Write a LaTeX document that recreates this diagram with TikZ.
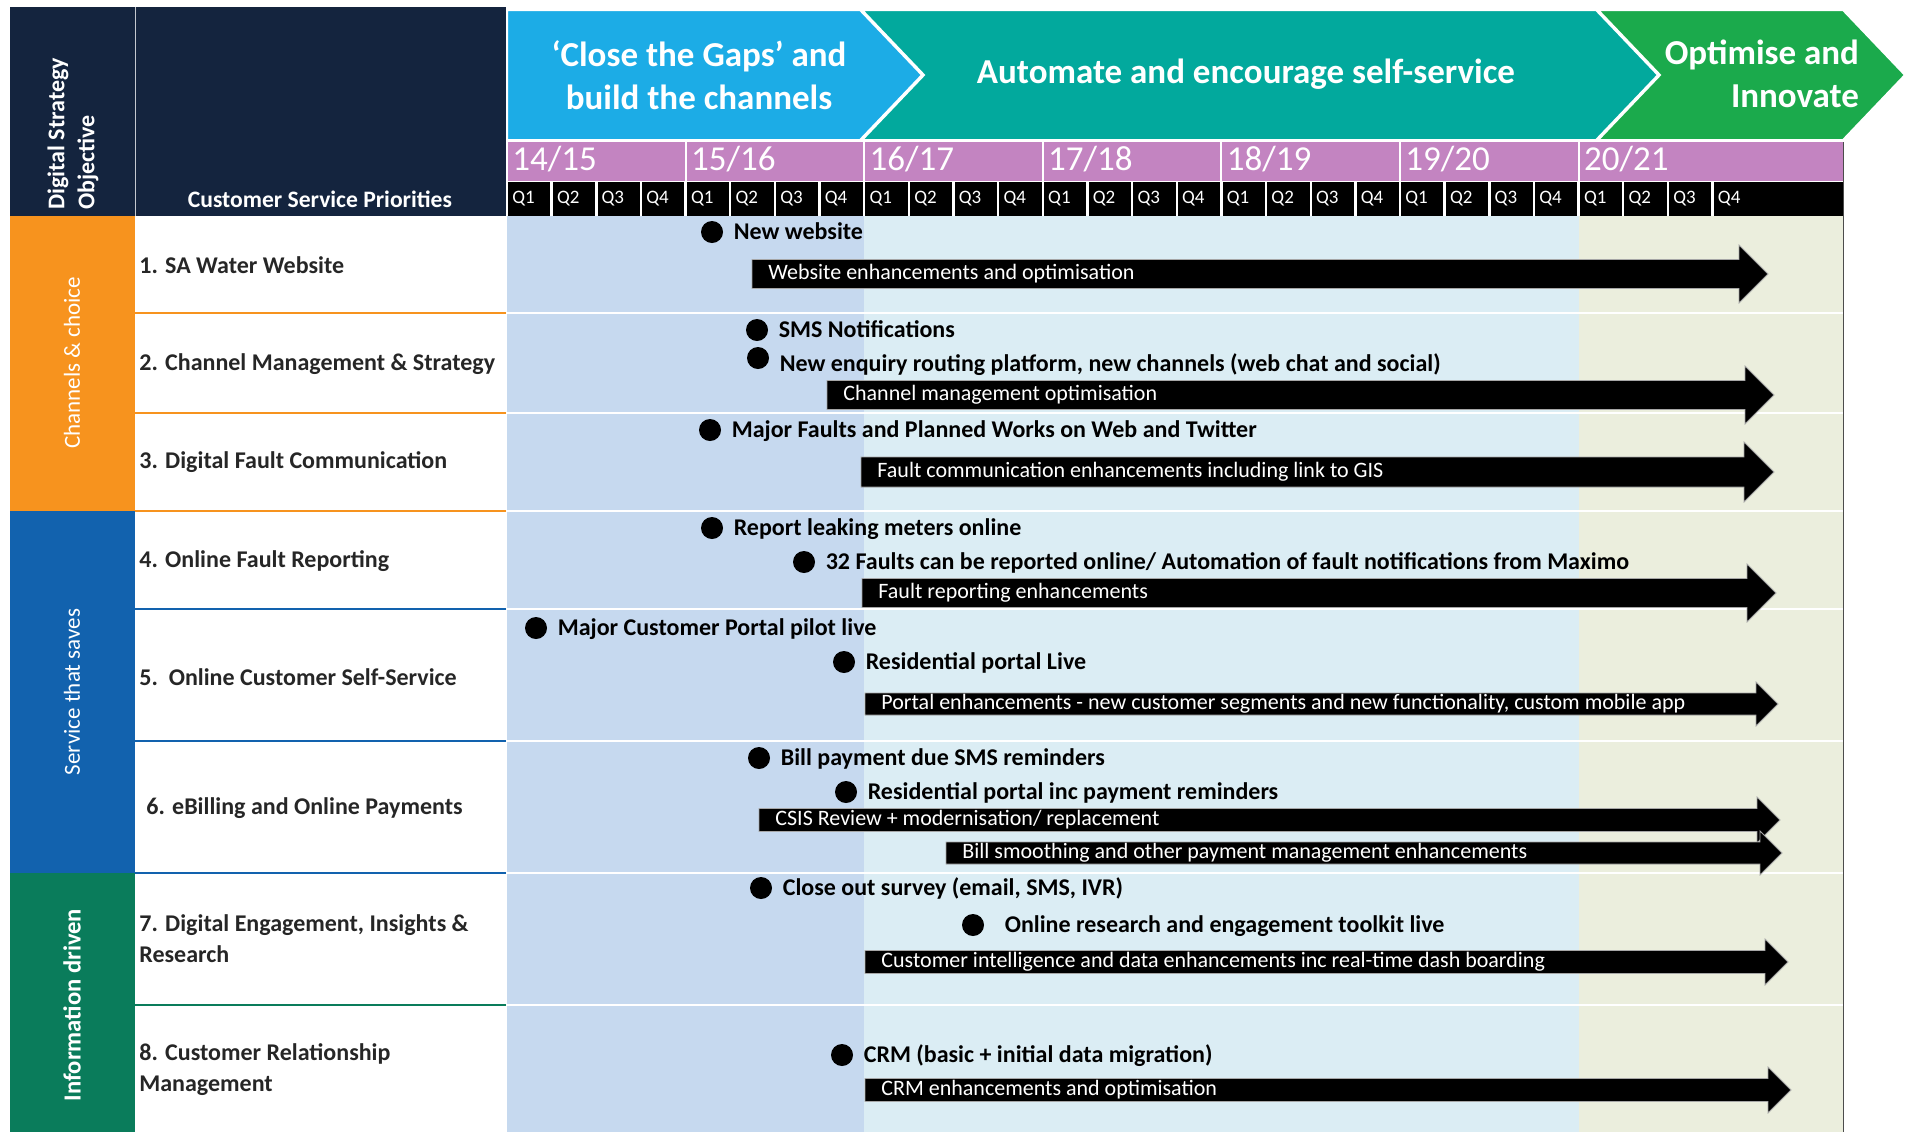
\documentclass[tikz,border=0pt]{standalone}
\usepackage{fontspec}
\setmainfont{Carlito}
\usetikzlibrary{positioning}
\definecolor{navy}{HTML}{14243E}
\definecolor{chorange}{HTML}{F7931E}
\definecolor{svblue}{HTML}{1262AE}
\definecolor{infgreen}{HTML}{0A7C5B}
\definecolor{gapblue}{HTML}{1CACE6}
\definecolor{autoteal}{HTML}{02A99D}
\definecolor{optgreen}{HTML}{1BAA4C}
\definecolor{yearpink}{HTML}{C384C1}
\definecolor{bgblueA}{HTML}{C6D9EF}
\definecolor{bgblueB}{HTML}{DBEDF4}
\definecolor{bggreen}{HTML}{EBEEDD}
\definecolor{labelgray}{HTML}{262626}
\tikzstyle{rowlabel}=[anchor=west, inner sep=0pt, align=left, text=labelgray, font=\fontsize{12}{15.5}\selectfont\bfseries]
\tikzstyle{mdot}=[circle, fill=black, inner sep=0pt, minimum size=11pt]
\tikzstyle{mstext}=[inner sep=0pt, text height=10.4pt, text depth=2.5pt, font=\fontsize{12}{14}\selectfont\bfseries]
\tikzstyle{bartext}=[anchor=west, inner sep=0pt, text=white, font=\fontsize{11}{13}\selectfont]
\tikzstyle{chevtext}=[text=white, align=center, font=\fontsize{17.5}{21.5}\selectfont\bfseries]
\tikzstyle{sidetext}=[rotate=90, inner sep=0pt, text=white, font=\fontsize{11.5}{15}\selectfont]
\tikzstyle{yeartext}=[anchor=west, inner sep=0pt, text=white, font=\fontsize{17.5}{20}\selectfont]
\tikzstyle{qtext}=[anchor=west, inner sep=0pt, text=white, font=\fontsize{9.5}{11}\selectfont]
% block arrow: name, left x, tip x, centre y, half height, text
\newcommand{\roadbar}[6]{
 \filldraw[fill=black, draw=black!35, line width=0.4pt] (#2,#4-#5) -- (#3-2*#5,#4-#5) -- (#3-2*#5,#4-2*#5) -- (#3,#4)
   -- (#3-2*#5,#4+2*#5) -- (#3-2*#5,#4+#5) -- (#2,#4+#5) -- cycle;
 \node[bartext] (#1) at (#2+16,#4) {#6};}

\begin{document}
\begin{tikzpicture}[x=0.5pt, y=-0.5pt, node distance=5pt]

\useasboundingbox (0,0) rectangle (1905,1132);
\fill[white] (0,0) rectangle (1905,1132);

% header and objective column
\fill[navy] (10,7) rectangle (506,216);
\draw[white!75!navy, line width=0.5pt] (135,7) -- (135,216);
\fill[chorange] (10,216) rectangle (135,511);
\fill[svblue] (10,511) rectangle (135,873);
\fill[infgreen] (10,873) rectangle (135,1132);
\node[sidetext, align=left, anchor=west, font=\fontsize{12}{15}\selectfont\bfseries] (objective) at (73,210) {Digital Strategy\\Objective};
\node[sidetext] (channels) at (72,363) {Channels \& choice};
\node[sidetext] (saves) at (72,692) {Service that saves};
\node[sidetext, font=\fontsize{12.3}{15}\selectfont\bfseries] (infodriven) at (72,1005) {Information driven};
\node[text=white, font=\fontsize{11.8}{14}\selectfont\bfseries] (priorities) at (320,199) {Customer Service Priorities};

% chevrons
\filldraw[fill=gapblue, draw=white, line width=1pt] (507,10) -- (860,10) -- (922,75) -- (860,140) -- (507,140) -- cycle;
\filldraw[fill=autoteal, draw=white, line width=1pt] (862,10) -- (1596,10) -- (1658,75) -- (1596,140) -- (862,140) -- (924,75) -- cycle;
\filldraw[fill=optgreen, draw=white, line width=1pt] (1598,10) -- (1843,10) -- (1905,75) -- (1843,140) -- (1598,140) -- (1660,75) -- cycle;
\node[chevtext] (closegaps) at (699,75) {‘Close the Gaps’ and\\build the channels};
\node[chevtext] (automate) at (1246,74) {Automate and encourage self-service};
\node[chevtext, align=right, anchor=east] (optimise) at (1866,74) {Optimise and\\Innovate};

% years and quarters
\fill[yearpink] (507,142) rectangle (1843,181);
\fill[black] (507,182) rectangle (1843,216);
\foreach \i in {0,...,6}{
  \pgfmathsetmacro\xs{507+178.6*\i}
  \pgfmathtruncatemacro\ya{14+\i}
  \pgfmathtruncatemacro\yb{15+\i}
  \draw[white, line width=1pt] (\xs,142) -- (\xs,181);
  \node[yeartext] (y\i) at (\xs+5,159) {\ya/\yb};
}
\foreach \q in {0,...,27}{
  \pgfmathsetmacro\xq{507+44.65*\q}
  \pgfmathtruncatemacro\qn{mod(\q,4)+1}
  \draw[white, line width=1.2pt] (\xq,182) -- (\xq,216);
  \node[qtext] (q\q) at (\xq+5,199) {Q\qn};
}

% timeline background
\fill[bgblueA] (507,216) rectangle (864,1132);
\fill[bgblueB] (864,216) rectangle (1579,1132);
\fill[bggreen] (1579,216) rectangle (1843,1132);
\draw[black!70, line width=0.5pt] (1843,142) -- (1843,1132);

% row lines
\foreach \y in {313,413,511,609,741,873,1005}
  \draw[white, line width=1pt] (507,\y) -- (1843,\y);
\foreach \y in {313,413,511}
  \draw[chorange, line width=1pt] (135,\y) -- (506,\y);
\foreach \y in {609,741,873}
  \draw[svblue, line width=1pt] (135,\y) -- (506,\y);
\draw[infgreen, line width=1pt] (135,1005) -- (506,1005);

% priorities
\node[rowlabel] (p1) at (139,265) {1. SA Water Website};
\node[rowlabel] (p2) at (139,364) {2. Channel Management \& Strategy};
\node[rowlabel] (p3) at (139,462) {3. Digital Fault Communication};
\node[rowlabel] (p4) at (139,561) {4. Online Fault Reporting};
\node[rowlabel] (p5) at (139,677) {5.\ \ Online Customer Self-Service};
\node[rowlabel] (p6) at (146,808) {6. eBilling and Online Payments};
\node[rowlabel] (p7) at (139,939) {7. Digital Engagement, Insights \&\\Research};
\node[rowlabel] (p8) at (139,1070) {8. Customer Relationship\\Management};

% ongoing work
\roadbar{b1}{752}{1768}{274}{14.5}{Website enhancements and optimisation}
\roadbar{b2}{827}{1774}{395}{14.5}{Channel management optimisation}
\roadbar{b3}{861}{1774}{472}{15}{Fault communication enhancements including link to GIS}
\roadbar{b4}{862}{1776}{593}{14.5}{Fault reporting enhancements}
\roadbar{b5}{865}{1778}{704}{11}{Portal enhancements - new customer segments and new functionality, custom mobile app}
\roadbar{b6a}{759}{1780}{820}{11.5}{CSIS Review + modernisation/ replacement}
\roadbar{b6b}{946}{1782}{853}{11}{Bill smoothing and other payment management enhancements}
\roadbar{b7}{865}{1788}{962}{11.5}{Customer intelligence and data enhancements inc real-time dash boarding}
\roadbar{b8}{865}{1791}{1090}{11.5}{CRM enhancements and optimisation}

% milestones
\node[mdot] (d1a) at (712,232) {};
\node[mstext, right=of d1a] (m1a) {New website};
\node[mdot] (d2a) at (757,330) {};
\node[mstext, right=of d2a] (m2a) {SMS Notifications};
\node[mdot] (d2b) at (758,358) {};
\node[mstext, right=of d2b, yshift=-3pt] (m2b) {New enquiry routing platform, new channels (web chat and social)};
\node[mdot] (d3a) at (710,430) {};
\node[mstext, right=of d3a] (m3a) {Major Faults and Planned Works on Web and Twitter};
\node[mdot] (d4a) at (712,528) {};
\node[mstext, right=of d4a] (m4a) {Report leaking meters online};
\node[mdot] (d4b) at (804,562) {};
\node[mstext, right=of d4b] (m4b) {32 Faults can be reported online/ Automation of fault notifications from Maximo};
\node[mdot] (d5a) at (536,628) {};
\node[mstext, right=of d5a] (m5a) {Major Customer Portal pilot live};
\node[mdot] (d5b) at (844,662) {};
\node[mstext, right=of d5b] (m5b) {Residential portal Live};
\node[mdot] (d6a) at (759,758) {};
\node[mstext, right=of d6a] (m6a) {Bill payment due SMS reminders};
\node[mdot] (d6b) at (846,792) {};
\node[mstext, right=of d6b] (m6b) {Residential portal inc payment reminders};
\node[mdot] (d7a) at (761,888) {};
\node[mstext, right=of d7a] (m7a) {Close out survey (email, SMS, IVR)};
\node[mdot] (d7b) at (973,925) {};
\node[mstext, right=10pt of d7b] (m7b) {Online research and engagement toolkit live};
\node[mdot] (d8a) at (842,1055) {};
\node[mstext, right=of d8a] (m8a) {CRM (basic + initial data migration)};

\end{tikzpicture}
\end{document}
